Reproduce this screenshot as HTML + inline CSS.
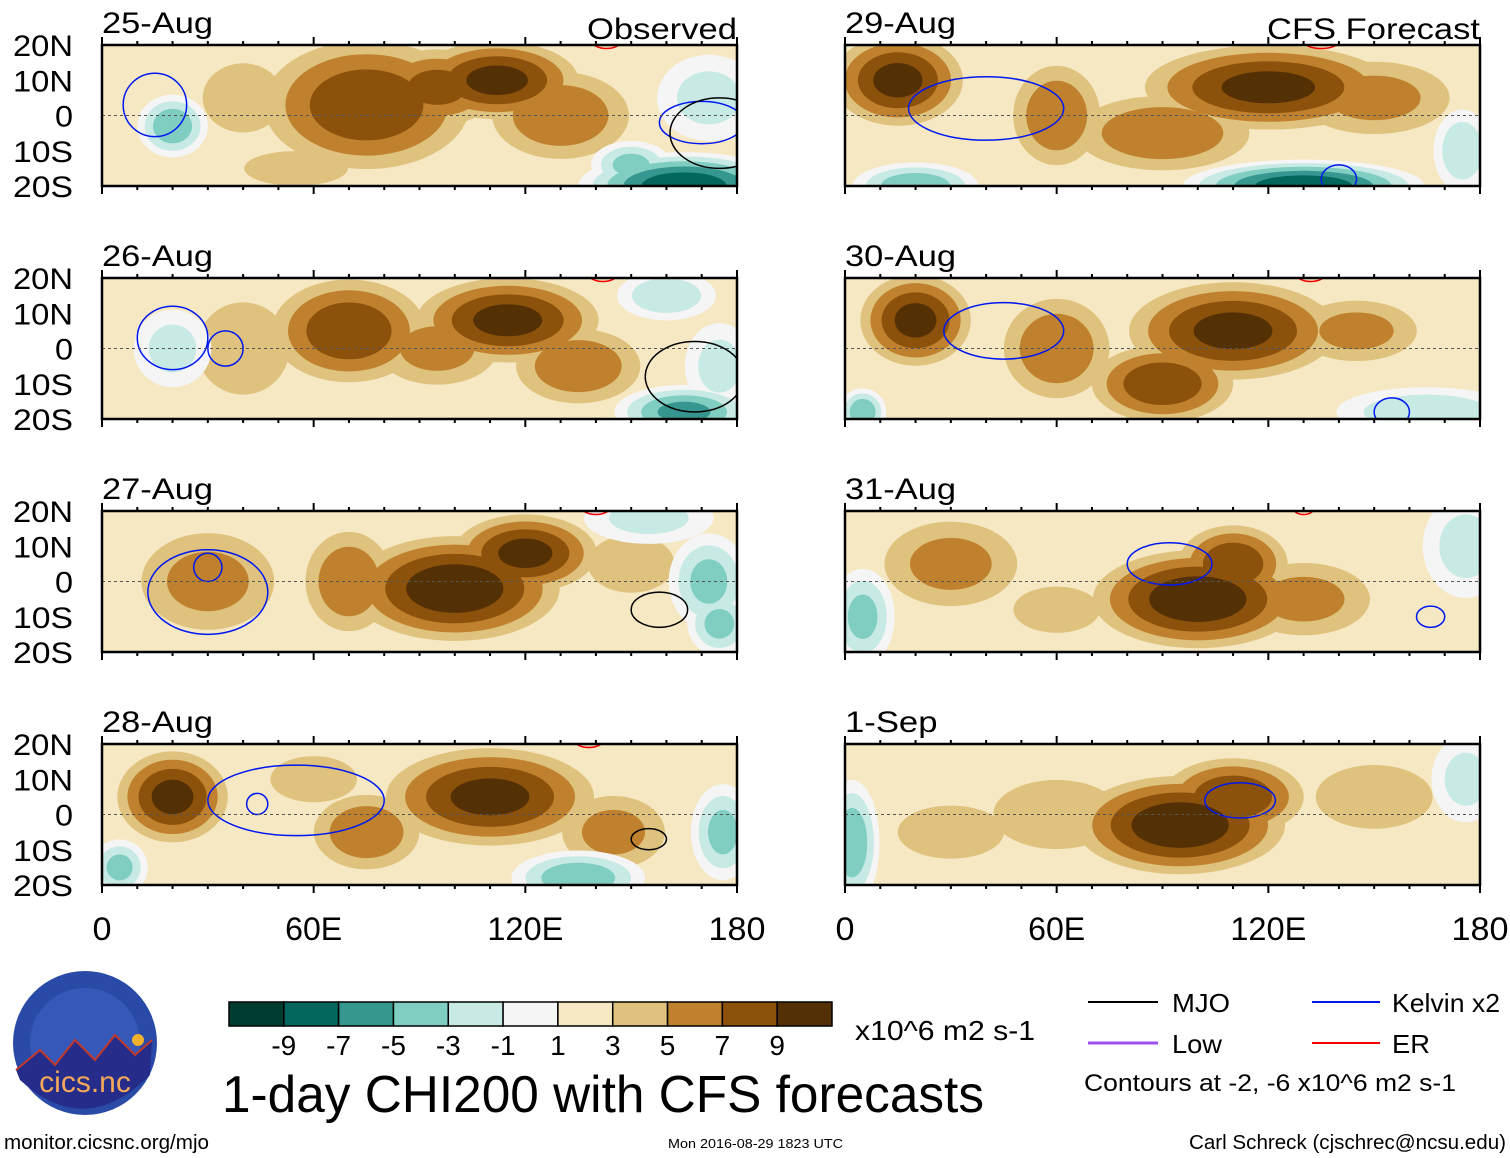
<!DOCTYPE html>
<html><head><meta charset="utf-8"><style>
body{margin:0;background:#fff;}
svg{display:block;font-family:"Liberation Sans",sans-serif;}
</style></head><body>
<svg id="fig" width="1510" height="1158" viewBox="0 0 1510 1158" xmlns="http://www.w3.org/2000/svg">
<g id="panels"></g>
<g id="bottom">
  <g>
    <circle cx="85" cy="1043" r="72" fill="#2a4aa8"/>
    <circle cx="85" cy="1043" r="55" fill="#3d63c4" opacity="0.6"/>
    <path d="M16,1070 L40,1050 L55,1065 L75,1040 L95,1060 L115,1035 L135,1055 L152,1040 L150,1075 Q85,1140 20,1080 Z" fill="#262c8a"/>
    <path d="M16,1070 L40,1050 L55,1065 L75,1040 L95,1060 L115,1035 L135,1055 L152,1040" fill="none" stroke="#c0392b" stroke-width="2"/>
    <circle cx="138" cy="1040" r="6" fill="#f0b030"/>
    <text x="85" y="1092" font-size="30" fill="#f3a85a" text-anchor="middle">cics.nc</text>
  </g>
  <g id="colorbar"></g>
  <text x="855" y="1040" font-size="28" textLength="180" lengthAdjust="spacingAndGlyphs">x10^6 m2 s-1</text>
  <text x="222" y="1112" font-size="52" textLength="762" lengthAdjust="spacingAndGlyphs">1-day CHI200 with CFS forecasts</text>
  <g>
    <line x1="1088" y1="1002" x2="1158" y2="1002" stroke="#000" stroke-width="2"/>
    <text x="1172" y="1012" font-size="26" textLength="58" lengthAdjust="spacingAndGlyphs">MJO</text>
    <line x1="1312" y1="1002" x2="1380" y2="1002" stroke="#0018f0" stroke-width="2"/>
    <text x="1392" y="1012" font-size="26" textLength="108" lengthAdjust="spacingAndGlyphs">Kelvin x2</text>
    <line x1="1088" y1="1043" x2="1158" y2="1043" stroke="#a050f0" stroke-width="3"/>
    <text x="1172" y="1053" font-size="26" textLength="50" lengthAdjust="spacingAndGlyphs">Low</text>
    <line x1="1312" y1="1043" x2="1380" y2="1043" stroke="#f00000" stroke-width="2"/>
    <text x="1392" y="1053" font-size="26" textLength="38" lengthAdjust="spacingAndGlyphs">ER</text>
    <text x="1084" y="1091" font-size="24" textLength="372" lengthAdjust="spacingAndGlyphs">Contours at -2, -6 x10^6 m2 s-1</text>
  </g>
  <text x="4" y="1149" font-size="20" textLength="205" lengthAdjust="spacingAndGlyphs">monitor.cicsnc.org/mjo</text>
  <text x="668" y="1148" font-size="13" textLength="175" lengthAdjust="spacingAndGlyphs">Mon 2016-08-29 1823 UTC</text>
  <text x="1189" y="1149" font-size="20" textLength="317" lengthAdjust="spacingAndGlyphs">Carl Schreck (cjschrec@ncsu.edu)</text>
</g>
</svg>
<script>
const levelValues = [-9,-7,-5,-3,-1,1,3,5,7,9];
const levelColors = ['#003c30','#01665e','#35978f','#80cdc1','#c7eae5','#f5f5f5','#f6e8c3','#dfc27d','#bf812d','#8c510a','#543005'];
const panelDates = ['25-Aug','26-Aug','27-Aug','28-Aug','29-Aug','30-Aug','31-Aug','1-Sep'];
const latTicks = ['20N','10N','0','10S','20S'];
const lonTicks = ['0','60E','120E','180'];
// blobs: [lon, lat, rlon, rlat, value]
const blobs25 = [[75,3,32,20,8],[112,10,25,12,9],[130,0,22,14,6],[95,8,20,12,7],[40,5,14,12,4],[20,-3,9,8,-4],[165,-20,28,9,-8],[150,-14,10,6,-3],[172,5,12,10,-1],[55,-15,18,6,4]];
const blobs26 = [[70,5,24,16,8],[115,8,28,13,9],[135,-5,20,12,6],[95,0,20,12,5],[40,0,16,16,4],[165,-18,18,7,-5],[160,15,12,6,-2],[20,0,9,9,-1],[175,-5,8,10,-1]];
const blobs27 = [[100,-2,32,16,10],[120,8,22,12,9],[70,0,14,16,6],[30,0,22,16,5],[150,5,15,10,4],[172,0,10,12,-3],[175,-12,8,8,-3],[155,18,15,6,-1]];
const blobs28 = [[20,5,17,14,9],[110,5,32,15,9],[45,0,12,12,2],[75,-5,17,12,6],[145,-5,17,12,5],[60,10,15,8,4],[135,-18,17,7,-4],[176,-5,8,12,-3],[5,-15,7,7,-3]];
const blobs29 = [[15,10,20,14,9],[120,8,38,13,9],[60,0,14,16,6],[90,-5,28,12,6],[150,5,25,12,5],[130,-20,32,7,-8],[20,-20,16,6,-4],[175,-10,7,10,-2]];
const blobs30 = [[20,8,17,14,9],[110,5,32,15,9],[60,0,17,16,6],[90,-10,22,12,8],[145,5,20,10,5],[5,-18,6,6,-4],[165,-18,22,6,-2]];
const blobs31 = [[100,-5,32,15,10],[110,5,17,12,8],[30,5,22,14,5],[130,-5,22,12,5],[60,-8,15,8,4],[5,-10,8,12,-3],[176,10,10,12,-1]];
const blobs01 = [[95,-3,32,15,10],[110,5,22,12,8],[60,0,22,12,4],[150,5,22,12,3],[30,-5,20,10,3],[2,-8,7,16,-4],[176,10,8,10,-1]];
const panelBlobs = [blobs25,blobs26,blobs27,blobs28,blobs29,blobs30,blobs31,blobs01];
// kelvin contours: [lon, lat, rlon, rlat]
const kelvinLines = [[[15,3,9,9],[170,-2,12,6]],[[20,3,10,9],[35,0,5,5]],[[30,-3,17,12],[30,4,4,4]],[[55,4,25,10],[44,3,3,3]],[[40,2,22,9],[140,-18,5,4]],[[45,5,17,8],[155,-18,5,4]],[[92,5,12,6],[166,-10,4,3]],[[112,4,10,5]]];
// MJO contours: [lon, lat, rlon, rlat]
const mjoLines = [[[175,-5,14,10]],[[168,-8,14,10]],[[158,-8,8,5]],[[155,-7,5,3]],[],[],[],[]];
// ER contours: [lon, lat, rlon, rlat]
const erLines = [[[143,21,4,2]],[[142,21,4,2]],[[140,21,4,2]],[[138,21,4,2]],[[135,21,5,2]],[[132,21,4,2]],[[130,21,3,2]],[]];
const NS='http://www.w3.org/2000/svg';
function mk(tag,attrs,parent){const e=document.createElementNS(NS,tag);for(const k in attrs)e.setAttribute(k,attrs[k]);parent.appendChild(e);return e;}
const PW=635, PH=141;
const xL=[102,845], yT=[45,278,511,744];
function xs(lon,x0){return x0+lon/180*PW;}
function ys(lat,y0){return y0+(20-lat)/40*PH;}
function colorFor(level,neg){
  const i=levelValues.indexOf(level); return neg?levelColors[i]:levelColors[i+1];}
const panelsG=document.getElementById('panels');
panelBlobs.forEach((bl,p)=>{
  const col=p<4?0:1,row=p%4,x0=xL[col],y0=yT[row];
  const g=mk('g',{},panelsG);
  
  
  const cid='clip'+p;
  const cp=mk('clipPath',{id:cid},g);mk('rect',{x:x0,y:y0,width:PW,height:PH},cp);
  const fg=mk('g',{'clip-path':'url(#'+cid+')'},g);
  mk('rect',{x:x0,y:y0,width:PW,height:PH,fill:'#f6e8c3'},fg);
  const posLevels=[3,5,7,9], negLevels=[1,-1,-3,-5,-7,-9];
  posLevels.forEach(L=>{
    bl.forEach(b=>{
      const v=b[4];
      if(v>=L){const s=Math.pow((v-L+2)/v,0.7);
        const e=mk('ellipse',{cx:xs(b[0],x0),cy:ys(b[1],y0),rx:b[2]*s/180*PW,ry:b[3]*s/40*PH,fill:colorFor(L,false)},fg);
        }
    });
  });
  negLevels.forEach(L=>{
    bl.forEach(b=>{
      const v=b[4];
      if(v<0&&v<=L){const s=Math.pow((-v+L+2)/(-v+2),0.7);
        const e=mk('ellipse',{cx:xs(b[0],x0),cy:ys(b[1],y0),rx:b[2]*s/180*PW,ry:b[3]*s/40*PH,fill:colorFor(L,true)},fg);
        }
    });
  });
  kelvinLines[p].forEach(k=>{
    const e=mk('ellipse',{cx:xs(k[0],x0),cy:ys(k[1],y0),rx:k[2]/180*PW,ry:k[3]/40*PH,fill:'none',stroke:'#0018f0','stroke-width':1.5},fg);
    
  });
  mjoLines[p].forEach(k=>{
    const e=mk('ellipse',{cx:xs(k[0],x0),cy:ys(k[1],y0),rx:k[2]/180*PW,ry:k[3]/40*PH,fill:'none',stroke:'#000','stroke-width':1.5},fg);
    
  });
  erLines[p].forEach(k=>{
    const e=mk('ellipse',{cx:xs(k[0],x0),cy:ys(k[1],y0),rx:k[2]/180*PW,ry:k[3]/40*PH,fill:'none',stroke:'#f00000','stroke-width':1.5},fg);
    
  });
  const eq=mk('line',{x1:x0,y1:ys(0,y0),x2:x0+PW,y2:ys(0,y0),stroke:'#555','stroke-dasharray':'3,3','stroke-width':1},fg);
  
  const fr=mk('rect',{x:x0,y:y0,width:PW,height:PH,fill:'none',stroke:'#000','stroke-width':2.5},g);
  
  for(let lon=0;lon<=180;lon+=10){const big=lon%60===0?8:4;
    mk('line',{x1:xs(lon,x0),y1:y0,x2:xs(lon,x0),y2:y0-big,stroke:'#000','stroke-width':2},g);
    mk('line',{x1:xs(lon,x0),y1:y0+PH,x2:xs(lon,x0),y2:y0+PH+big,stroke:'#000','stroke-width':2},g);}
  const t=mk('text',{x:x0,y:y0-12,'font-size':30,textLength:panelDates[p].length*18.5,lengthAdjust:'spacingAndGlyphs'},g);
  t.textContent=panelDates[p];
  
  if(row===0){const lbl=col===0?'Observed':'CFS Forecast';
    const o=mk('text',{x:x0+PW,y:y0-6,'font-size':30,'text-anchor':'end',textLength:col===0?150:213,lengthAdjust:'spacingAndGlyphs'},g);
    o.textContent=lbl;}
  if(col===0){latTicks.forEach((lt,i)=>{
    const tt=mk('text',{x:73,y:y0+i*PH/4+11,'font-size':30,'text-anchor':'end',textLength:lt.length===1?18:lt.length*20,lengthAdjust:'spacingAndGlyphs'},g);
    tt.textContent=lt;});}
  if(row===3){lonTicks.forEach((lt,i)=>{
    const tt=mk('text',{x:xs(i*60,x0),y:940,'font-size':32,'text-anchor':'middle',textLength:lt.length*19,lengthAdjust:'spacingAndGlyphs'},g);
    tt.textContent=lt;});}
});
const cb=document.getElementById('colorbar');
const cbx=229,cby=1002,cbw=603,cbh=24,bw=cbw/levelColors.length;
levelColors.forEach((c,i)=>{const r=mk('rect',{x:cbx+i*bw,y:cby,width:bw,height:cbh,fill:c,stroke:'#000','stroke-width':1.5},cb);
  });
levelValues.forEach((v,i)=>{const t=mk('text',{x:cbx+(i+1)*bw,y:1055,'font-size':28,'text-anchor':'middle'},cb);
  t.textContent=String(v);});
</script>
</body></html>
